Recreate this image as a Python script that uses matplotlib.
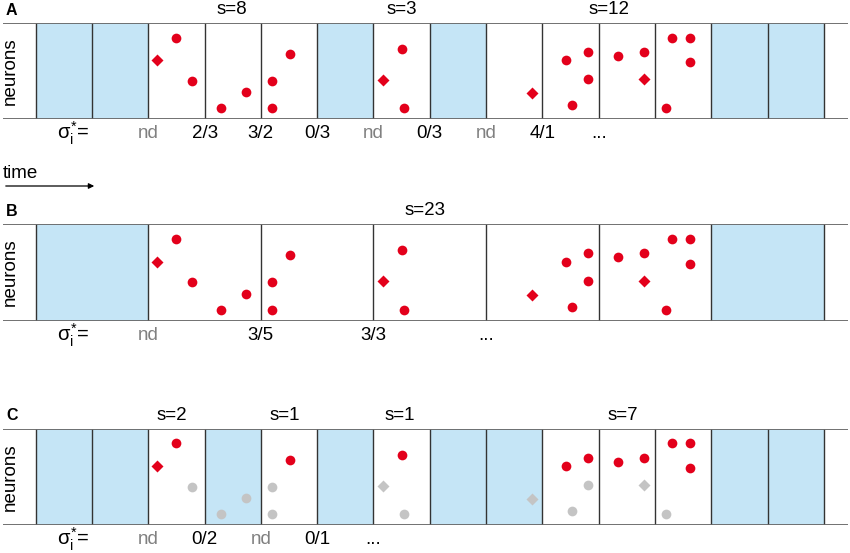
import numpy as np
import matplotlib.pyplot as plt

plt.rcParams['font.family'] = ['Liberation Sans', 'DejaVu Sans']
plt.rcParams['mathtext.fontset'] = 'custom'
plt.rcParams['mathtext.rm'] = 'Liberation Sans'
plt.rcParams['mathtext.it'] = 'Liberation Sans'

# spikes: time (in bins), neuron position (0 = bottom, 1 = top), marker
spike_t = [2.16, 2.49, 2.78, 3.29, 3.74, 4.19, 4.19, 4.51,
           6.17, 6.51, 6.54,
           8.82, 9.42, 9.81, 9.81, 9.53, 10.34, 10.80, 10.80,
           11.30, 11.62, 11.62, 11.20]
spike_n = [0.615, 0.85, 0.40, 0.115, 0.28, 0.40, 0.115, 0.68,
           0.41, 0.73, 0.115,
           0.27, 0.615, 0.70, 0.415, 0.146, 0.66, 0.70, 0.415,
           0.85, 0.85, 0.594, 0.115]
spike_m = ['D', 'o', 'o', 'o', 'o', 'o', 'o', 'o',
           'D', 'o', 'o',
           'D', 'o', 'o', 'o', 'o', 'o', 'o', 'D',
           'o', 'o', 'o', 'o']
# panel C: which spikes stay active (red)
c_active = [1, 1, 0, 0, 0, 0, 0, 1,
            0, 1, 0,
            0, 1, 1, 0, 0, 1, 1, 0,
            1, 1, 1, 0]

edges_a = list(range(15))
blue_a = [0, 1, 5, 7, 12, 13]
edges_b = list(range(0, 15, 2))
blue_b = [0, 12]
edges_c = list(range(15))
blue_c = [0, 1, 3, 5, 7, 8, 12, 13]

s_a = [(3.49, 's=8'), (6.50, 's=3'), (10.18, 's=12')]
s_b = [(6.92, 's=23')]
s_c = [(2.42, 's=2'), (4.43, 's=1'), (6.46, 's=1'), (10.42, 's=7')]

sig_a = [(2, 'nd'), (3, '2/3'), (4, '3/2'), (5, '0/3'), (6, 'nd'),
         (7, '0/3'), (8, 'nd'), (9, '4/1'), (10, '...')]
sig_b = [(2, 'nd'), (4, '3/5'), (6, '3/3'), (8, '...')]
sig_c = [(2, 'nd'), (3, '0/2'), (4, 'nd'), (5, '0/1'), (6, '...')]

red = '#e3001b'
grey = '#c4c4c4'
blue = '#c5e5f6'
fs = 13.5

W, H = 850, 553
fig = plt.figure(figsize=(8.5, 5.53), dpi=100)

x0 = -35.7 / 56.3
x1 = (850 - 35.7) / 56.3


def panel(top, bottom, letter, edges, blues, bw, slabels, sig, colors):
    ax = fig.add_axes([0, 1 - bottom / H, 1, (bottom - top) / H])
    ax.set_xlim(x0, x1)
    ax.set_ylim(0, 1)
    ax.axis('off')
    for b in blues:
        ax.axvspan(b, b + bw, color=blue, lw=0, zorder=0)
    ax.vlines(edges, 0, 1, color='#333333', lw=1.0, zorder=1)
    ax.hlines([0, 1], x0 + 0.05, x1 - 0.03, color='#666666', lw=1.3, zorder=2)
    for t, n, m, c in zip(spike_t, spike_n, spike_m, colors):
        ax.plot(t, n, marker=m, color=c, ms=7.0 if m == 'o' else 5.9,
                ls='none', mec='none', zorder=3)
    for x, s in slabels:
        ax.text(x, 1.14, s, ha='center', va='center', fontsize=fs)
    ax.text(0.66, -0.15, r'$\sigma^{*}_{i}$=', ha='center', va='center',
            fontsize=fs + 1)
    for x, s in sig:
        ax.text(x, -0.15, s, ha='center', va='center', fontsize=fs,
                color='#808080' if s == 'nd' else 'black')
    ax.text(-0.444, 0.5, 'neurons', rotation=90, ha='center', va='center',
            fontsize=fs)
    fig.text(6 / W, 1 - (top - 13) / H, letter, fontsize=11.5, weight='bold',
             ha='left', va='center')
    return ax


panel(23.3, 119.3, 'A', edges_a, blue_a, 1, s_a, sig_a, [red] * len(spike_t))
panel(224.3, 321, 'B', edges_b, blue_b, 2, s_b, sig_b, [red] * len(spike_t))
panel(429, 525, 'C', edges_c, blue_c, 1, s_c, sig_c,
      [red if a else grey for a in c_active])

fig.text(3 / W, 1 - 174 / H, 'time', fontsize=fs, ha='left', va='center')
fig.add_artist(plt.Annotation('', xy=(97 / W, 1 - 186 / H),
                              xytext=(3 / W, 1 - 186 / H),
                              xycoords='figure fraction',
                              arrowprops=dict(arrowstyle='-|>', color='black',
                                              lw=0.9, mutation_scale=8)))

fig.savefig('out.png', dpi=100)
